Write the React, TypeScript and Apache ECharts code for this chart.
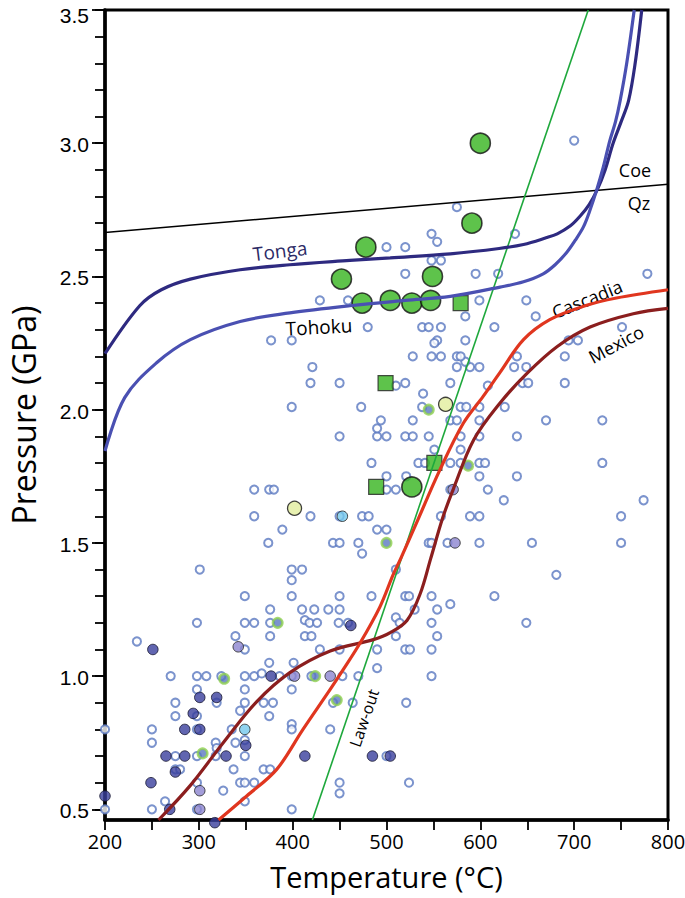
import React, { useEffect, useRef } from "react";
import * as echarts from "echarts";

// ---------- data (Temperature °C, Pressure GPa) ----------
const xTickValues = [200, 300, 400, 500, 600, 700, 800];
const yTickValues = [0.5, 1.0, 1.5, 2.0, 2.5, 3.0, 3.5];
const yMinorTicks = [0.5, 0.6, 0.7, 0.8, 0.9, 1.0, 1.1, 1.2, 1.3, 1.4, 1.5, 1.6, 1.7, 1.8, 1.9, 2.0, 2.1, 2.2, 2.3, 2.4, 2.5, 2.6, 2.7, 2.8, 2.9, 3.0, 3.1, 3.2, 3.3, 3.4, 3.5];

const openCircles = [
  [376, 1.25], [410, 1.25], [423, 1.25], [438, 1.25], [450, 1.25], [530, 1.25], [554, 1.25], [568, 1.27],
  [298, 1.2], [349, 1.2], [359, 1.2], [376, 1.2], [413, 1.21], [418, 1.2], [426, 1.2], [449, 1.2], [459, 1.2], [510, 1.22], [514, 1.2], [548, 1.2], [649, 1.2],
  [339, 1.15], [376, 1.15], [413, 1.15], [420, 1.15], [510, 1.15], [554, 1.15],
  [234, 1.13],
  [349, 1.1], [429, 1.1], [450, 1.1], [490, 1.1], [520, 1.1], [525, 1.1], [548, 1.1],
  [375, 1.05], [401, 1.05], [490, 1.03],
  [270, 1.0], [298, 1.0], [308, 1.0], [324, 1.0], [349, 1.0], [359, 1.0], [367, 1.01], [386, 1.0], [399, 1.0], [420, 1.0], [453, 1.0], [470, 1.0], [548, 1.0],
  [298, 0.95], [349, 0.95], [399, 0.95],
  [275, 0.9], [319, 0.9], [349, 0.9], [369, 0.9], [379, 0.9], [443, 0.9], [464, 0.9], [521, 0.9],
  [275, 0.85], [298, 0.85], [344, 0.87], [375, 0.85],
  [200, 0.8], [250, 0.8], [298, 0.8], [335, 0.8], [399, 0.82], [399, 0.8], [440, 0.8],
  [250, 0.75], [318, 0.75], [339, 0.75], [349, 0.76], [319, 0.73],
  [275, 0.7], [298, 0.7], [318, 0.7], [349, 0.7], [500, 0.7],
  [275, 0.65], [280, 0.65], [337, 0.65], [369, 0.65], [376, 0.65],
  [298, 0.6], [344, 0.6], [349, 0.6], [359, 0.6], [450, 0.6], [524, 0.6],
  [326, 0.57], [450, 0.56], [264, 0.53], [349, 0.53],
  [200, 0.5], [250, 0.5], [298, 0.5], [399, 0.5],
  [349, 1.3], [399, 1.3], [450, 1.3], [484, 1.3], [520, 1.3], [524, 1.3], [548, 1.3], [615, 1.3],
  [399, 1.36], [681, 1.38],
  [301, 1.4], [399, 1.4], [410, 1.4], [510, 1.4],
  [474, 1.46],
  [374, 1.5], [443, 1.5], [450, 1.5], [470, 1.5], [545, 1.5], [548, 1.5], [565, 1.5], [599, 1.5], [655, 1.5], [750, 1.5],
  [389, 1.55], [490, 1.55], [500, 1.55],
  [359, 1.6], [419, 1.6], [450, 1.6], [474, 1.6], [481, 1.6], [558, 1.6], [589, 1.6], [599, 1.6], [750, 1.6],
  [625, 1.66], [774, 1.66],
  [359, 1.7], [375, 1.7], [380, 1.7], [500, 1.7], [510, 1.7], [568, 1.7], [608, 1.7],
  [500, 1.75], [521, 1.75], [599, 1.75], [639, 1.75],
  [484, 1.8], [534, 1.8], [541, 1.8], [568, 1.8], [579, 1.8], [599, 1.8], [605, 1.8], [730, 1.8],
  [551, 1.85], [579, 1.85],
  [450, 1.9], [490, 1.9], [500, 1.9], [520, 1.9], [528, 1.9], [545, 1.9], [579, 1.9], [599, 1.9], [639, 1.9],
  [490, 1.93],
  [494, 1.96], [528, 1.96], [568, 1.96], [575, 1.96], [599, 1.96], [670, 1.96], [730, 1.96],
  [399, 2.01], [473, 2.01], [538, 2.01], [579, 2.01], [585, 2.01], [599, 2.01], [626, 2.01],
  [539, 2.06], [510, 2.09], [608, 2.09],
  [419, 2.1], [450, 2.1], [520, 2.1], [568, 2.1], [645, 2.1], [651, 2.1], [690, 2.1],
  [421, 2.16], [575, 2.16], [589, 2.16], [599, 2.16], [636, 2.16], [649, 2.16], [584, 2.18],
  [528, 2.2], [548, 2.2], [558, 2.2], [575, 2.2], [579, 2.2], [639, 2.2], [690, 2.2],
  [377, 2.26], [399, 2.26], [554, 2.26], [584, 2.26], [694, 2.26], [704, 2.26], [551, 2.25],
  [480, 2.31], [538, 2.31], [545, 2.31], [558, 2.31], [615, 2.31], [751, 2.31],
  [584, 2.35], [659, 2.35],
  [429, 2.41], [459, 2.41], [599, 2.41], [649, 2.41],
  [520, 2.51], [595, 2.51], [619, 2.51], [778, 2.51],
  [548, 2.56], [558, 2.56],
  [500, 2.61], [520, 2.61], [554, 2.63],
  [548, 2.66], [637, 2.66],
  [575, 2.76], [700, 3.01],
];

const darkNavyPts = [
  [251, 1.1], [377, 1.0], [301, 0.92], [319, 0.92], [294, 0.86], [285, 0.8], [301, 0.8], [350, 0.74],
  [265, 0.7], [285, 0.7], [329, 0.7], [413, 0.7], [275, 0.64], [249, 0.6], [200, 0.55], [269, 0.5],
  [317, 0.45], [462, 1.19], [485, 0.7], [504, 0.7],
];
const lightPurplePts = [[342, 1.11], [402, 1.0], [440, 1.0], [301, 0.57], [301, 0.5], [571, 1.7], [573, 1.5]];
const cyanPts = [[349, 0.8], [453, 1.6]];
const greenHaloPts = [[384, 1.2], [327, 0.99], [424, 1.0], [447, 0.91], [304, 0.71], [545, 2.0], [587, 1.79], [500, 1.5]];
const paleYellowPts = [[563, 2.02], [402, 1.63]];
const bigGreenPts = [[600, 3.0], [591, 2.7], [478, 2.61], [452, 2.49], [549, 2.5], [474, 2.4], [504, 2.41], [527, 2.4], [547, 2.41], [527, 1.71]];
const greenSquarePts = [[579, 2.4], [499, 2.1], [551, 1.8], [489, 1.71]];

const tongaCurve = [
  [200, 2.21], [237, 2.39], [260, 2.45], [291, 2.49], [344, 2.525], [397, 2.544], [461, 2.56], [504, 2.57],
  [568, 2.585], [620, 2.605], [646, 2.62], [670, 2.645], [682, 2.66], [696, 2.69], [706, 2.725], [716, 2.77],
  [724.5, 2.825], [733, 2.9], [741.5, 3.0], [750, 3.08], [758, 3.16], [765, 3.3], [772, 3.5],
];
const tohokuCurve = [
  [200, 1.845], [221, 2.045], [255, 2.176], [291, 2.263], [344, 2.331], [397, 2.363], [461, 2.39], [520, 2.41],
  [568, 2.425], [621, 2.46], [646, 2.48], [667, 2.51], [680, 2.545], [692, 2.59], [701, 2.635], [710, 2.687],
  [717, 2.75], [724, 2.825], [731, 2.91], [738, 3.01], [744, 3.08], [749, 3.16], [756, 3.3], [764, 3.5],
];
const cascadiaCurve = [
  [321, 0.46], [351, 0.55], [383, 0.65], [411, 0.8], [440, 0.95], [454, 1.025], [472, 1.125], [493, 1.26],
  [507, 1.38], [515, 1.44], [532, 1.575], [557, 1.775], [582, 1.95], [603, 2.05], [621, 2.14], [646, 2.263],
  [674, 2.338], [710, 2.388], [745, 2.419], [800, 2.45],
];
const mexicoCurve = [
  [257, 0.46], [291, 0.59], [326, 0.75], [362, 0.905], [397, 1.013], [440, 1.094], [486, 1.137], [504, 1.163],
  [522, 1.21], [536, 1.31], [547, 1.44], [560, 1.595], [571, 1.7], [593, 1.887], [621, 2.025], [650, 2.137],
  [682, 2.237], [717, 2.31], [763, 2.36], [800, 2.38],
];
const lawOutLine = [[421, 0.46], [715, 3.5]];
const coeQzLine = [[200, 2.665], [800, 2.846]];

// ---------- chart ----------
const deg = Math.PI / 180;

function scatter(name: string, data: number[][], symbol: string, size: number, itemStyle: any) {
  return {
    name,
    type: "scatter",
    data,
    symbol,
    symbolSize: size,
    itemStyle,
    clip: false,
    silent: true,
  };
}

function curve(name: string, data: number[][], color: string, width: number, smooth: number | boolean) {
  return {
    name,
    type: "line",
    data,
    smooth,
    symbol: "none",
    lineStyle: { color, width },
    silent: true,
  };
}

const labelText = (text: string, x: number, y: number, rot: number, size: number, color: string) => ({
  type: "text",
  x,
  y,
  rotation: rot * deg,
  silent: true,
  style: {
    text,
    fill: color,
    font: `${size}px "Open Sans", sans-serif`,
    textAlign: "center",
    textVerticalAlign: "middle",
  },
});

const yLabelStyle = { fontSize: 21, fontFamily: "Liberation Sans", color: "#000" };

const option: any = {
  animation: false,
  backgroundColor: "#ffffff",
  grid: {
    left: 105,
    right: 17,
    top: 10,
    bottom: 78,
    show: true,
    borderColor: "#000",
    borderWidth: 3,
    outerBoundsMode: "none",
  },
  xAxis: {
    type: "value",
    min: 200,
    max: 800,
    interval: 50,
    name: "Temperature (°C)",
    nameLocation: "middle",
    nameGap: 42,
    nameTextStyle: { fontSize: 29, fontFamily: "Open Sans", color: "#000" },
    axisLine: { show: true, lineStyle: { color: "#000", width: 3.5 } },
    axisTick: { show: true, length: 10, lineStyle: { color: "#000", width: 1.8 } },
    axisLabel: {
      fontSize: 20,
      fontFamily: "Open Sans",
      color: "#000",
      margin: 11,
      formatter: (v: number) => (xTickValues.indexOf(v) >= 0 ? String(v) : ""),
    },
    splitLine: { show: false },
  },
  yAxis: [
    {
      type: "value",
      min: 0.46,
      max: 3.5,
      name: "Pressure (GPa)",
      nameLocation: "middle",
      nameGap: 66,
      nameTextStyle: { fontSize: 32, fontFamily: "Open Sans", color: "#000" },
      axisLine: { show: true, lineStyle: { color: "#000", width: 3.5 } },
      axisTick: { show: true, length: 10, customValues: yMinorTicks, lineStyle: { color: "#000", width: 1.8 } },
      axisLabel: {
        customValues: yTickValues,
        margin: 16,
        ...yLabelStyle,
        formatter: (v: number) => (v >= 3.5 ? "{t|" + v.toFixed(1) + "}" : "{n|" + v.toFixed(1) + "}"),
        rich: {
          t: { ...yLabelStyle, padding: [10, 0, 0, 0] },
          n: { ...yLabelStyle, padding: [3, 0, 0, 0] },
        },
      },
      splitLine: { show: false },
    },
    {
      type: "value",
      min: 0.46,
      max: 3.5,
      position: "left",
      axisLine: { show: false },
      axisTick: { show: true, length: 13, customValues: yTickValues, lineStyle: { color: "#000", width: 1.8 } },
      axisLabel: { show: false },
      splitLine: { show: false },
    },
  ],
  series: [
    scatter("open", openCircles, "emptyCircle", 8.2, { color: "#5A78C0", borderColor: "#5A78C0", borderWidth: 2 }),
    curve("Coe-Qz", coeQzLine, "#000000", 1.6, false),
    curve("Law-out", lawOutLine, "#1EA83C", 1.6, false),
    curve("Tonga", tongaCurve, "#2E2A80", 3.2, 0.35),
    curve("Tohoku", tohokuCurve, "#4A50B2", 3.2, 0.35),
    curve("Mexico", mexicoCurve, "#8B1E1E", 3.2, 0.35),
    curve("Cascadia", cascadiaCurve, "#E0361F", 3.2, 0.35),
    scatter("navy", darkNavyPts, "circle", 10.5, { color: "#3A3F9C", borderColor: "#151530", borderWidth: 1 }),
    scatter("purple", lightPurplePts, "circle", 10.5, { color: "#8C84D0", borderColor: "#222", borderWidth: 1 }),
    scatter("cyan", cyanPts, "circle", 10.5, { color: "#74C8EC", borderColor: "#222", borderWidth: 1 }),
    scatter("halo", greenHaloPts, "circle", 9.5, { color: "#5A78C0", borderColor: "#8ED14F", borderWidth: 2.5 }),
    scatter("yellow", paleYellowPts, "circle", 14, { color: "#E2EE9E", borderColor: "#111", borderWidth: 1.3 }),
    scatter("bigGreen", bigGreenPts, "circle", 20, { color: "#36B41E", borderColor: "#111", borderWidth: 1.6 }),
    scatter("square", greenSquarePts, "rect", 15, { color: "#36B41E", borderColor: "#222", borderWidth: 1.2 }),
  ],
  graphic: [
    labelText("Coe", 635, 170, 0, 18, "#000"),
    labelText("Qz", 639, 203, 0, 18, "#000"),
    labelText("Tonga", 280, 251, 7, 19, "#2C2A66"),
    labelText("Tohoku", 319, 327, 3, 19, "#000"),
    labelText("Cascadia", 587, 299, 22, 18, "#000"),
    labelText("Mexico", 616, 344, 28, 18, "#000"),
    labelText("Law-out", 364, 718, 71, 16, "#000"),
  ],
};

export default function App() {
  const ref = useRef<HTMLDivElement>(null);
  useEffect(() => {
    document.body.style.margin = "0";
    const chart = echarts.init(ref.current as HTMLDivElement, null, { renderer: "svg" });
    chart.setOption(option);
    return () => chart.dispose();
  }, []);
  return <div ref={ref} style={{ width: 685, height: 898 }} />;
}
